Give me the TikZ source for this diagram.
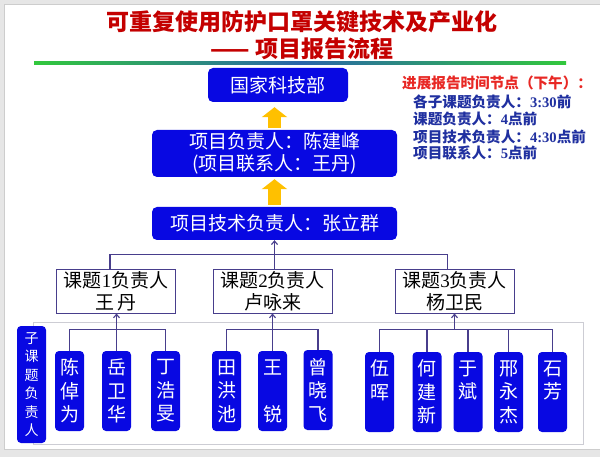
\documentclass[tikz,border=0pt]{standalone}
\usepackage{fontspec}
\setmainfont{Noto Sans CJK SC}
\newfontfamily\tnr{Liberation Serif}
\usetikzlibrary{arrows.meta,calc}
\definecolor{boxblue}{RGB}{8,8,226}
\definecolor{titlered}{RGB}{196,0,0}
\definecolor{hdrred}{RGB}{232,40,36}
\definecolor{noteblue}{RGB}{32,48,160}
\definecolor{conncol}{RGB}{72,62,140}
\definecolor{arroworange}{RGB}{255,192,0}
\definecolor{pagegrey}{RGB}{230,230,230}
\definecolor{framegrey}{RGB}{205,205,205}
\definecolor{groupgrey}{RGB}{205,205,212}
\definecolor{linegreen}{RGB}{50,200,60}
\definecolor{lineblue}{RGB}{40,100,170}
\begin{document}
\begin{tikzpicture}[x=1pt,y=-1pt,
  bluebox/.style={fill=boxblue, rounded corners=5pt, text=white, inner sep=0pt, align=center, font=\fontsize{19}{22}\selectfont},
  topicbox/.style={draw=conncol, line width=1pt, fill=white, inner sep=0pt, align=center, minimum width=119pt, minimum height=43pt, font=\fontsize{19}{22}\selectfont},
  personbox/.style={fill=boxblue, rounded corners=4pt, text=white, inner sep=0pt, align=center, minimum width=29pt, minimum height=80pt, font=\fontsize{19}{23.5}\selectfont},
  conn/.style={draw=conncol, line width=1.1pt},
  tipup/.style={-{Straight Barb[length=3.5pt,width=6pt]}},
  bigarrow/.style={draw=arroworange, line width=13pt, -{Triangle[length=10pt,width=25pt]}},
  titletext/.style={text=titlered, font=\fontsize{23}{27}\bfseries\selectfont, inner sep=0pt},
  notetext/.style={inner sep=0pt, anchor=base west, font=\fontsize{14.6}{17}\bfseries\selectfont},
  noteline/.style={notetext, text=noteblue}
]
\useasboundingbox (0,0) rectangle (600,457);
% page
\fill[pagegrey] (0,0) rectangle (600,457);
\filldraw[fill=white, draw=framegrey, line width=0.8pt] (4,4) rectangle (601,449);
% title
\node[titletext, anchor=base] (title1) at (302,31) {可重复使用防护口罩关键技术及产业化};
\node[titletext, anchor=base] (title2) at (302,58) {—— 项目报告流程};
\shade[left color=linegreen, right color=linegreen, middle color=lineblue] (34,61.5) rectangle (566,65);
% notes
\node[notetext, text=hdrred] (hdr) at (402,88.5) {进展报告时间节点（下午）：};
\node[noteline] (n1) at (413,107.5) {各子课题负责人：{\tnr 3:30}前};
\node[noteline] (n2) at (413,124.7) {课题负责人：{\tnr 4}点前};
\node[noteline] (n3) at (413,142.2) {项目技术负责人：{\tnr 4:30}点前};
\node[noteline] (n4) at (413,158.7) {项目联系人：{\tnr 5}点前};
% top boxes
\node[bluebox, minimum width=140pt, minimum height=34pt] (guo) at (278,85) {国家科技部};
\node[bluebox, minimum width=245pt, minimum height=47pt] (fz) at (274.5,153.5) {项目负责人：陈建峰\\(项目联系人：王丹)};
\node[bluebox, minimum width=245pt, minimum height=33pt] (js) at (274.5,223.5) {项目技术负责人：张立群};
\draw[bigarrow, shorten >=5pt, shorten <=2pt] (fz.north) -- (fz.north |- guo.south);
\draw[bigarrow, shorten >=2pt, shorten <=2pt] (js.north) -- (js.north |- fz.south);
% topic boxes
\node[topicbox] (tb1) at (116,291.5) {课题{\tnr 1}负责人\\王\,丹};
\node[topicbox] (tb2) at (272.5,291.5) {课题{\tnr 2}负责人\\卢咏来};
\node[topicbox] (tb3) at (454.5,291.5) {课题{\tnr 3}负责人\\杨卫民};
\draw[conn] ([xshift=-6pt]tb1.north) -- ++(0,-15) -| ([xshift=-7pt]tb3.north);
\draw[conn, tipup] (tb2.north -| js.south) -- (js.south);
% group frame
\draw[groupgrey, line width=0.8pt] (33,322) rectangle (583,444);
% sub-topic label
\node[bluebox, rounded corners=4pt, minimum width=29pt, minimum height=117pt, font=\fontsize{14}{18.4}\selectfont] (sub) at (31.5,384.5) {子\\课\\题\\负\\责\\人};
% person boxes
\node[personbox] (p1) at (69.5,391) {陈\\倬\\为};
\node[personbox] (p2) at (116.5,391) {岳\\卫\\华};
\node[personbox] (p3) at (165.5,391) {丁\\浩\\旻};
\node[personbox] (p4) at (226.5,391) {田\\洪\\池};
\node[personbox] (p5) at (272.5,391) {王\\\phantom{口}\\锐};
\node[personbox] (p6) at (318,390) {曾\\晓\\飞};
\node[personbox] (p7) at (379.5,392) {伍\\晖\\\phantom{口}};
\node[personbox] (p8) at (427,392) {何\\建\\新};
\node[personbox] (p9) at (468,392) {于\\斌\\\phantom{口}};
\node[personbox] (p10) at (508.5,392) {邢\\永\\杰};
\node[personbox] (p11) at (552.5,392) {石\\芳\\\phantom{口}};
% group 1
\draw[conn] (p1.north) -- ++(0,-21) -| (p3.north);
\draw[conn, tipup] (p2.north) -- (p2.north |- tb1.south);
% group 2
\draw[conn] (p4.north) -- ++(0,-21) -| (p6.north);
\draw[conn, tipup] (p5.north) -- (p5.north |- tb2.south);
% group 3
\coordinate (g3) at ($(p7.north)+(0,-22)$);
\draw[conn] (p7.north) -- (g3) -| (p11.north);
\draw[conn] (p8.north) -- (p8.north |- g3);
\draw[conn] (p9.north) -- (p9.north |- g3);
\draw[conn] (p10.north) -- (p10.north |- g3);
\draw[conn, tipup] (tb3.south |- g3) -- (tb3.south);
\end{tikzpicture}
\end{document}
